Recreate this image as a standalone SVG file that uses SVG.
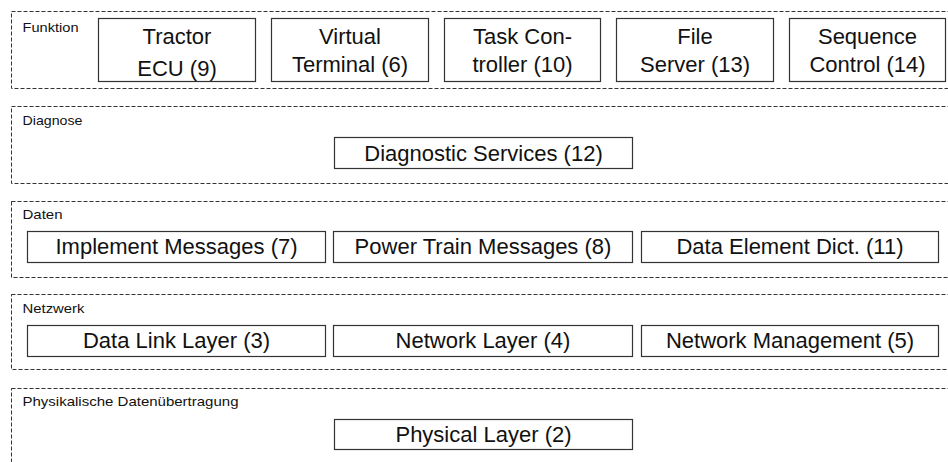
<svg xmlns="http://www.w3.org/2000/svg" width="948" height="462" viewBox="0 0 948 462">
<style>
.sec{fill:none;stroke:#333;stroke-width:1;stroke-dasharray:4 2}
.box{fill:#fff;stroke:#333;stroke-width:1.2}
.lbl{font-family:"Liberation Sans",Arial,sans-serif;font-size:22px;fill:#111;text-anchor:middle}
.sl{font-family:"Liberation Sans",Arial,sans-serif;font-size:13.5px;fill:#111}
</style>
<rect width="948" height="462" fill="#fff"/>
<g id="sec-funktion">
<rect class="sec" x="11.5" y="11.5" width="940" height="77"/>
<text class="sl" x="22.5" y="31.5" textLength="56" lengthAdjust="spacingAndGlyphs">Funktion</text>
</g>
<g id="sec-diagnose">
<rect class="sec" x="11.5" y="106.5" width="940" height="77"/>
<text class="sl" x="22.5" y="125" textLength="60" lengthAdjust="spacingAndGlyphs">Diagnose</text>
</g>
<g id="sec-daten">
<rect class="sec" x="11.5" y="201.5" width="940" height="76"/>
<text class="sl" x="22.5" y="219" textLength="40" lengthAdjust="spacingAndGlyphs">Daten</text>
</g>
<g id="sec-netzwerk">
<rect class="sec" x="11.5" y="294.5" width="940" height="75"/>
<text class="sl" x="22.5" y="313" textLength="62" lengthAdjust="spacingAndGlyphs">Netzwerk</text>
</g>
<g id="sec-phys">
<rect class="sec" x="11.5" y="388.5" width="940" height="90"/>
<text class="sl" x="22.5" y="406" textLength="216" lengthAdjust="spacingAndGlyphs">Physikalische Datenübertragung</text>
</g>
<g id="tractor">
<rect class="box" x="98.5" y="18.5" width="157" height="63"/>
<text class="lbl" x="177" y="43.5">Tractor</text>
<text class="lbl" x="177" y="75.5">ECU (9)</text>
</g>
<g id="vt">
<rect class="box" x="271.5" y="18.5" width="157" height="63"/>
<text class="lbl" x="350" y="43.5">Virtual</text>
<text class="lbl" x="350" y="72">Terminal (6)</text>
</g>
<g id="tc">
<rect class="box" x="444.5" y="18.5" width="156" height="63"/>
<text class="lbl" x="522.5" y="43.5">Task Con-</text>
<text class="lbl" x="522.5" y="72">troller (10)</text>
</g>
<g id="fs">
<rect class="box" x="616.5" y="18.5" width="157" height="63"/>
<text class="lbl" x="695" y="43.5">File</text>
<text class="lbl" x="695" y="72">Server (13)</text>
</g>
<g id="sc">
<rect class="box" x="789.5" y="18.5" width="156" height="63"/>
<text class="lbl" x="867.5" y="43.5">Sequence</text>
<text class="lbl" x="867.5" y="72">Control (14)</text>
</g>
<g id="diag">
<rect class="box" x="334.5" y="137.5" width="298" height="31"/>
<text class="lbl" x="483.5" y="160.5">Diagnostic Services (12)</text>
</g>
<g id="impl">
<rect class="box" x="27.5" y="231.5" width="298" height="31"/>
<text class="lbl" x="176.5" y="254">Implement Messages (7)</text>
</g>
<g id="ptm">
<rect class="box" x="333.5" y="231.5" width="299" height="31"/>
<text class="lbl" x="483" y="254">Power Train Messages (8)</text>
</g>
<g id="ded">
<rect class="box" x="641.5" y="231.5" width="297" height="31"/>
<text class="lbl" x="790" y="254">Data Element Dict. (11)</text>
</g>
<g id="dll">
<rect class="box" x="27.5" y="325.5" width="298" height="31"/>
<text class="lbl" x="176.5" y="348">Data Link Layer (3)</text>
</g>
<g id="nl">
<rect class="box" x="333.5" y="325.5" width="299" height="31"/>
<text class="lbl" x="483" y="348">Network Layer (4)</text>
</g>
<g id="nm">
<rect class="box" x="641.5" y="325.5" width="297" height="31"/>
<text class="lbl" x="790" y="348">Network Management (5)</text>
</g>
<g id="phys">
<rect class="box" x="334.5" y="419.5" width="298" height="30"/>
<text class="lbl" x="483.5" y="442">Physical Layer (2)</text>
</g>
<g id="connectors"></g>
</svg>
